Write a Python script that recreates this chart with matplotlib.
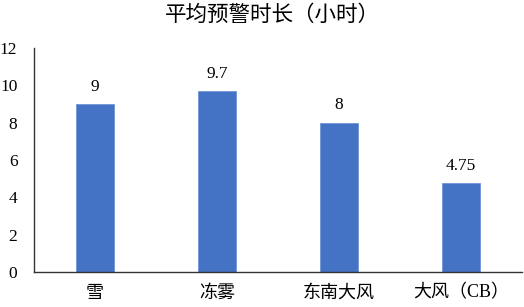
import matplotlib
matplotlib.use("Agg")
import matplotlib.pyplot as plt

plt.rcParams['font.family'] = ['Liberation Serif', 'Noto Sans CJK SC', 'DejaVu Sans']

# data
categories = ["雪", "冻雾", "东南大风", "大风（CB）"]
values = [9, 9.7, 8, 4.75]
value_labels = ["9", "9.7", "8", "4.75"]
yticks = [0, 2, 4, 6, 8, 10, 12]

fig = plt.figure(figsize=(5.24, 3.07), dpi=100)
ax = fig.add_axes([0.065, 0.114, 0.931, 0.730])

x = range(len(categories))
bars = ax.bar(x, values, width=0.31, color="#4472C4", edgecolor="#6F95D8", linewidth=0.6)

for xi, v, lab in zip(x, values, value_labels):
    ax.text(xi, v + 0.5, lab, ha="center", va="bottom", fontsize=12.5)

ax.set_xlim(-0.5, 3.5)
ax.set_ylim(0, 12)
ax.set_yticks(yticks)
ax.set_xticks(list(x))
ax.set_xticklabels(categories, fontsize=13)
ax.tick_params(axis="y", labelsize=12.5, length=0, pad=12)
ax.tick_params(axis="x", length=0, pad=9)

for s in ["top", "right"]:
    ax.spines[s].set_visible(False)
ax.spines["left"].set_color("#333333")
ax.spines["bottom"].set_color("#333333")
ax.spines["left"].set_linewidth(1.0)
ax.spines["bottom"].set_linewidth(1.0)

fig.text(0.52, 0.95, "平均预警时长（小时）", ha="center", va="center", fontsize=15.5)

fig.savefig("out.png", dpi=100)
